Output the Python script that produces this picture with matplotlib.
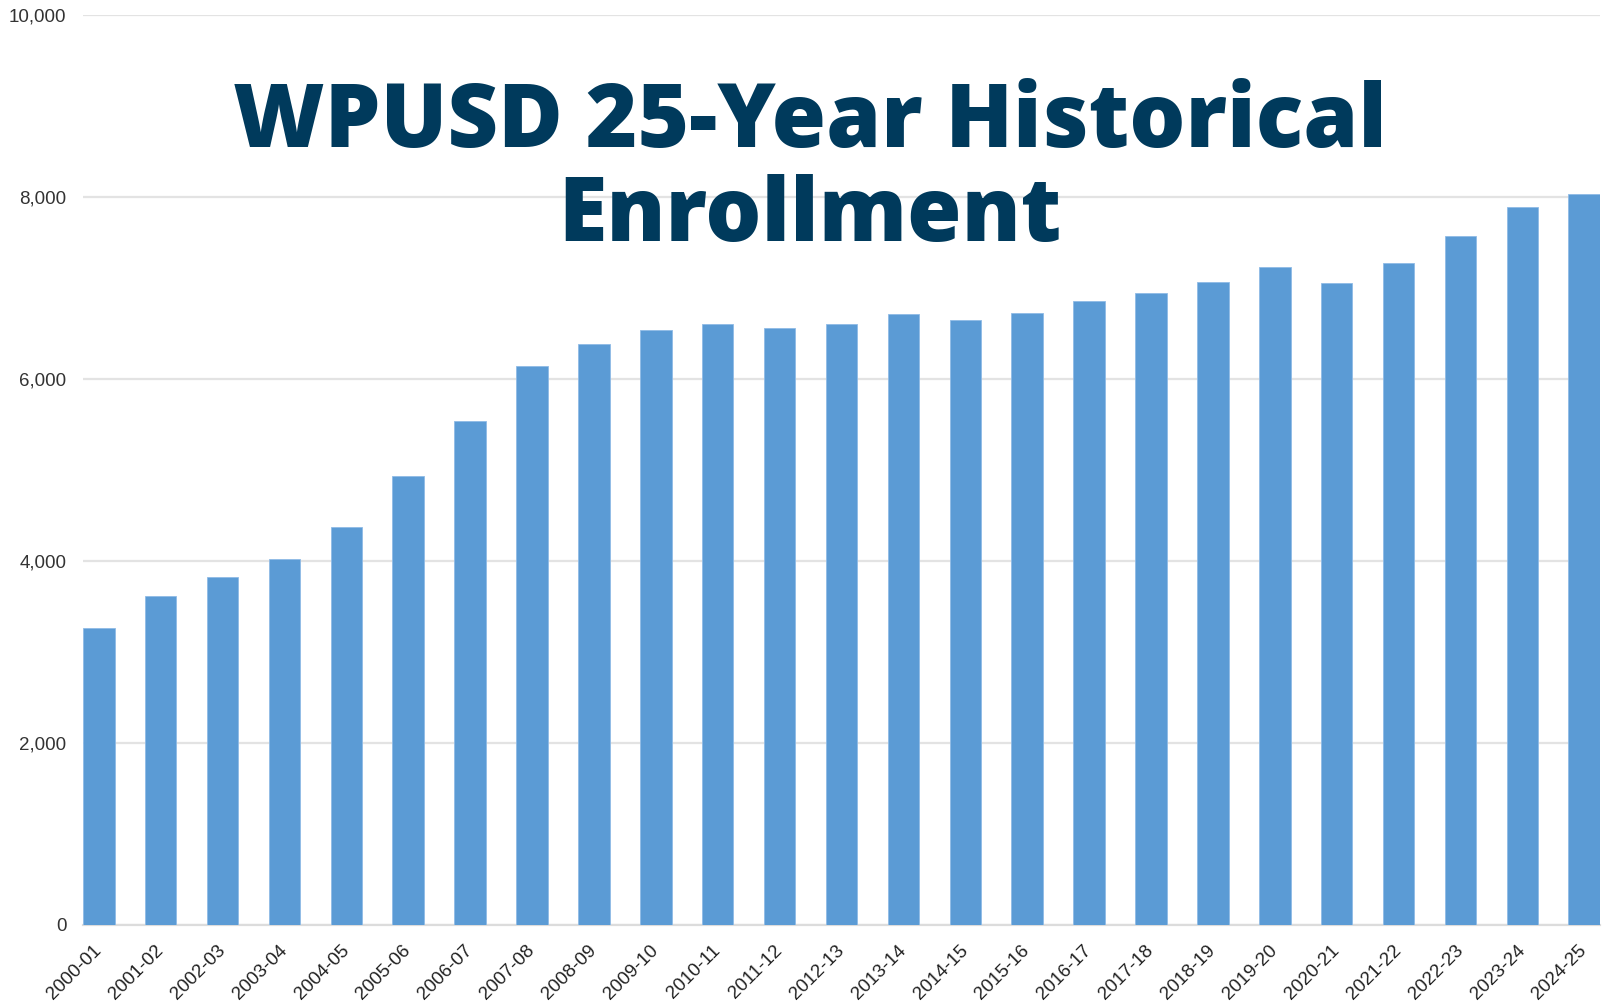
import matplotlib
matplotlib.use("Agg")
import matplotlib.pyplot as plt
from matplotlib.ticker import FuncFormatter

years = ["2000-01", "2001-02", "2002-03", "2003-04", "2004-05", "2005-06", "2006-07",
         "2007-08", "2008-09", "2009-10", "2010-11", "2011-12", "2012-13", "2013-14",
         "2014-15", "2015-16", "2016-17", "2017-18", "2018-19", "2019-20", "2020-21",
         "2021-22", "2022-23", "2023-24", "2024-25"]
enrollment = [3255, 3613, 3818, 4020, 4368, 4926, 5532, 6134, 6385, 6529, 6600, 6555,
              6599, 6706, 6639, 6725, 6856, 6938, 7062, 7231, 7049, 7267, 7566, 7881, 8030]
y_ticks = [0, 2000, 4000, 6000, 8000, 10000]
title = "WPUSD 25-Year Historical\nEnrollment"

W, H = 1608, 1002
fig = plt.figure(figsize=(W / 100, H / 100), dpi=100)
left, right, top, bottom = 83, 1600, 14.7, 924.5
ax = fig.add_axes([left / W, 1 - bottom / H, (right - left) / W, (bottom - top) / H])

bw = 0.51
x = list(range(len(years)))
ax.bar(x, enrollment, width=bw, color="#5b9bd5", edgecolor="#8fbbe6", linewidth=0.6, zorder=3)

ax.set_xlim(-bw / 2, len(years) - 1 + bw / 2)
ax.set_ylim(0, 10000)
ax.set_yticks(y_ticks)
ax.yaxis.set_major_formatter(FuncFormatter(lambda v, p: f"{int(v):,}"))
ax.grid(axis="y", color="#e3e3e3", linewidth=1.6, zorder=0)
ax.set_axisbelow(True)
for s in ["top", "right", "left"]:
    ax.spines[s].set_visible(False)
ax.spines["bottom"].set_color("#dcdcdc")
ax.spines["bottom"].set_linewidth(1.6)

ax.set_xticks(x)
ax.set_xticklabels(years, rotation=45, ha="right", va="center", rotation_mode="anchor",
                   fontsize=13.5, color="#222222", family="Liberation Sans")
ax.tick_params(axis="x", length=0, pad=17)
ax.tick_params(axis="y", length=0, pad=12, labelsize=13.5, labelcolor="#333333")
for lab in ax.get_yticklabels():
    lab.set_family("Liberation Sans")

fig.text(0.5035, 0.8295, title, ha="center", va="center", fontsize=63.5, fontweight="heavy",
         family="Open Sans", color="#003a5c", linespacing=1.09)

fig.savefig("out.png", dpi=100)
